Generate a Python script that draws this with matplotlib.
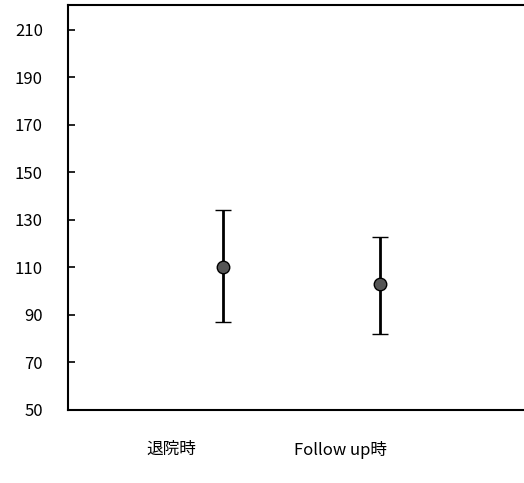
import matplotlib.pyplot as plt

plt.rcParams['font.family'] = ['Noto Sans CJK JP', 'DejaVu Sans']
plt.rcParams['ytick.direction'] = 'in'

groups = ['退院時', 'Follow up時']
x_pos = [1, 2]
label_pos = [0.67, 1.75]
means = [110, 103]
upper = [134, 123]
lower = [87, 82]

err_lo = [m - l for m, l in zip(means, lower)]
err_hi = [u - m for u, m in zip(upper, means)]

fig = plt.figure(figsize=(5.24, 4.83), dpi=100)
ax = fig.add_axes([68/524, 1 - 410/483, 1 - 68/524 + 0.01, 405/483])

ax.errorbar(x_pos, means, yerr=[err_lo, err_hi], fmt='o', color='black',
            ecolor='black', elinewidth=2, capsize=6, capthick=1.5,
            markersize=9, markerfacecolor='#555555', markeredgecolor='black',
            markeredgewidth=1)

ax.set_xlim(0.013, 2.955)
ax.set_ylim(50, 220.5)
ax.set_yticks(range(50, 211, 20))
ax.tick_params(axis='y', direction='in', length=5, width=1.2, color='black', pad=18, labelsize=12)
ax.set_xticks(label_pos)
ax.set_xticklabels(groups, fontsize=12)
ax.tick_params(axis='x', length=0, pad=22)
ax.spines['right'].set_visible(False)
for s in ['left', 'top', 'bottom']:
    ax.spines[s].set_linewidth(1.5)

fig.savefig('out.png', dpi=100)
